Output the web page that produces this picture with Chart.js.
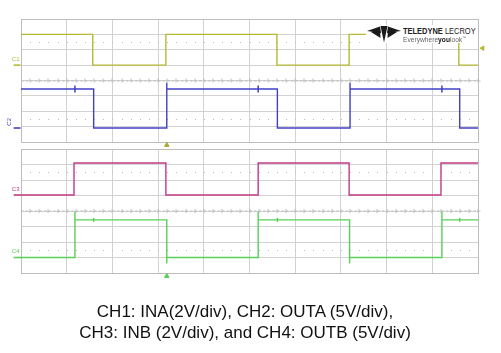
<!DOCTYPE html>
<html><head><meta charset="utf-8">
<script src="https://cdn.jsdelivr.net/npm/chart.js@4"></script>
<style>
html,body{margin:0;padding:0;background:#fff;width:501px;height:353px;overflow:hidden;font-family:"Liberation Sans",Arial,sans-serif}
.panel{position:absolute;left:0;width:501px}
#topWrap{top:9px;height:143px}
#botWrap{top:139px;height:144px}
#logo{position:absolute;left:366px;top:25px;width:112px;height:18px;background:#fff}
#logo svg{position:absolute;left:1px;top:1px}
#logo .l1{position:absolute;left:37px;top:1px;font-size:9px;color:#222;white-space:nowrap;transform:scaleX(0.83);transform-origin:0 0}
#logo .l2{position:absolute;left:37px;top:10px;font-size:7px;color:#666;white-space:nowrap;transform:scaleX(0.95);transform-origin:0 0}
#caption{position:absolute;left:0;top:301px;width:490px;text-align:center;font-size:17px;line-height:21px;color:#111}
</style></head>
<body>
<div id="topWrap" class="panel"><canvas id="cTop"></canvas></div>
<div id="botWrap" class="panel"><canvas id="cBot"></canvas></div>
<div id="logo">
<svg width="34" height="17" viewBox="0 0 34 17">
<polygon points="0,5 13,0.5 14,7" fill="#1a1a1a"/>
<polygon points="34,5 21,0.5 20,7" fill="#1a1a1a"/>
<polygon points="13.5,0 20.5,0 17,16.5" fill="#1a1a1a"/>
<polygon points="4,6 13,2.5 13.5,12" fill="#1a1a1a"/>
<polygon points="30,6 21,2.5 20.5,12" fill="#1a1a1a"/>
</svg>
<div class="l1"><b>TELEDYNE</b> LECROY</div>
<div class="l2">Everywhere<b style="color:#111">you</b>look<sup style="font-size:4px">™</sup></div>
</div>
<div id="caption">CH1: INA(2V/div), CH2: OUTA (5V/div),<br>CH3: INB (2V/div), and CH4: OUTB (5V/div)</div>
<script>
// ---- data (time in horizontal divisions, level in vertical divisions) ----
const ch1Edges = [1.57, 3.17, 5.60, 7.18, 9.58];
const ch1High = 7.0, ch1Low = 5.0;
const ch2Edges = [1.59, 3.19, 5.61, 7.20, 9.60];
const ch2High = 3.45, ch2Low = 0.91;
const ch2Peaks = [null, 3.85, null, 3.85, null];
const ch2Glitch = [1.18, 5.19, 9.21];
const ch3Edges = [1.16, 3.17, 5.19, 7.18, 9.19];
const ch3High = 7.1, ch3Low = 5.03;
const ch4Edges = [1.18, 3.19, 5.19, 7.19, 9.21];
const ch4High = 3.43, ch4Low = 1.0;
const ch4Peaks = [3.95, 0.62, 3.95, 0.62, 3.95];
const ch4Glitch = [1.59, 5.61, 9.60];
const triggerTime = 3.19;
const triggerLevel = 6.1;
const xDivs = [0, 10], yDivs = [0, 8];

const colYellow = '#b5b935', colBlue = '#4040c6', colMag = '#c23a86', colGreen = '#58d058';
const gridCol = '#d2d2d2', frameCol = '#bdbdbd';

function trace(edges, hi, lo, startHigh, peaks){
  const pts = []; let cur = startHigh ? hi : lo;
  pts.push({x: xDivs[0], y: cur});
  edges.forEach((e, i) => {
    const nxt = cur === hi ? lo : hi;
    pts.push({x: e, y: cur});
    if (peaks && peaks[i] != null) pts.push({x: e, y: peaks[i]});
    pts.push({x: e, y: nxt});
    cur = nxt;
  });
  pts.push({x: xDivs[1], y: cur});
  return pts;
}
function lineDs(data, color, w){
  return {type:'line', data, borderColor:color, borderWidth:w||1.4, pointRadius:0, tension:0, fill:false, clip:false};
}
function markDs(data, color, style, r, rot, w){
  return {type:'line', showLine:false, data, borderColor:color, backgroundColor:color, pointStyle:style,
          pointRadius:r, pointRotation:rot||0, borderWidth:w||1, clip:false};
}
const decor = {
  id:'decor',
  beforeDatasetsDraw(chart){
    const {ctx, scales:{x, y}} = chart;
    ctx.save();
    ctx.fillStyle = '#bcbcbc';
    const yc = y.getPixelForValue(4);
    for (let v = 0; v < 10; v += 0.1){
      const px = x.getPixelForValue(v);
      ctx.fillRect(px, Math.round(yc)-0.5, 2.5, 1);
    }
    for (let v = 0.2; v < 10; v += 0.2){
      const px = Math.round(x.getPixelForValue(v));
      ctx.fillRect(px-0.5, yc-2, 1, 4);
    }
    for (const r of [1.5, 6.5]){
      const py = Math.round(y.getPixelForValue(r));
      for (let v = 0.2; v < 10; v += 0.2){
        const px = Math.round(x.getPixelForValue(v));
        ctx.fillRect(px, py, 1, 1);
      }
    }
    ctx.restore();
  },
  afterDatasetsDraw(chart, args, opts){
    const {ctx, scales:{x, y}} = chart;
    ctx.save();
    ctx.font = '6px "Liberation Sans", sans-serif';
    (opts.labels||[]).forEach(l => {
      const px = x.getPixelForValue(l.x), py = y.getPixelForValue(l.y);
      ctx.fillStyle = l.color;
      ctx.save(); ctx.translate(px, py);
      if (l.rot) ctx.rotate(l.rot);
      ctx.textBaseline = 'bottom';
      ctx.fillText(l.text, 0, 0);
      ctx.restore();
    });
    ctx.restore();
  }
};
function makeChart(id, datasets, labels){
  return new Chart(document.getElementById(id), {
    data:{datasets},
    options:{
      responsive:true, maintainAspectRatio:false, animation:false,
      layout:{padding:{left:21, right:23, top:10, bottom:10}},
      plugins:{legend:{display:false}, tooltip:{enabled:false}, decor:{labels}},
      scales:{
        x:{type:'linear', min:xDivs[0], max:xDivs[1], ticks:{display:false, stepSize:1},
           grid:{drawTicks:false, color:c => (c.tick.value===0||c.tick.value===10)?frameCol:gridCol, lineWidth:1},
           border:{display:true, color:frameCol, width:1},
           afterFit:s => { s.height = 0; }},
        y:{type:'linear', min:yDivs[0], max:yDivs[1], ticks:{display:false, stepSize:1},
           grid:{drawTicks:false, color:c => (c.tick.value===0||c.tick.value===8)?frameCol:gridCol, lineWidth:1},
           border:{display:true, color:frameCol, width:1},
           afterFit:s => { s.width = 0; }}
      }
    },
    plugins:[decor]
  });
}
makeChart('cTop', [
  lineDs(trace(ch1Edges, ch1High, ch1Low, true), colYellow),
  lineDs(trace(ch2Edges, ch2High, ch2Low, true, ch2Peaks), colBlue),
  lineDs([{x:-0.16, y:ch1Low}, {x:-0.01, y:ch1Low}], colYellow, 1.6),
  lineDs([{x:-0.16, y:ch2Low}, {x:-0.01, y:ch2Low}], colBlue, 1.6),
  markDs(ch2Glitch.map(t => ({x:t, y:ch2High})), colBlue, 'line', 3.5, 90, 1.5),
  markDs([{x:triggerTime, y:-0.2}], '#a8ab30', 'triangle', 2.6),
  markDs([{x:10.1, y:triggerLevel}], colYellow, 'triangle', 2.6, -90)
], [
  {text:'C1', x:-0.2, y:ch1Low+0.2, color:colYellow},
  {text:'C2', x:-0.19, y:ch2Low+0.15, color:colBlue, rot:-Math.PI/2}
]);
makeChart('cBot', [
  lineDs(trace(ch3Edges, ch3High, ch3Low, false), colMag),
  lineDs(trace(ch4Edges, ch4High, ch4Low, false, ch4Peaks), colGreen),
  lineDs([{x:-0.16, y:ch3Low}, {x:0, y:ch3Low}], colMag, 1.6),
  lineDs([{x:-0.16, y:ch4Low}, {x:0, y:ch4Low}], colGreen, 1.6),
  markDs(ch4Glitch.map(t => ({x:t, y:ch4High})), colGreen, 'line', 2, 90, 1.5),
  markDs([{x:triggerTime, y:-0.2}], colGreen, 'triangle', 2.6)
], [
  {text:'C3', x:-0.2, y:ch3Low+0.2, color:colMag},
  {text:'C4', x:-0.2, y:ch4Low+0.2, color:colGreen}
]);
</script>
</body></html>
